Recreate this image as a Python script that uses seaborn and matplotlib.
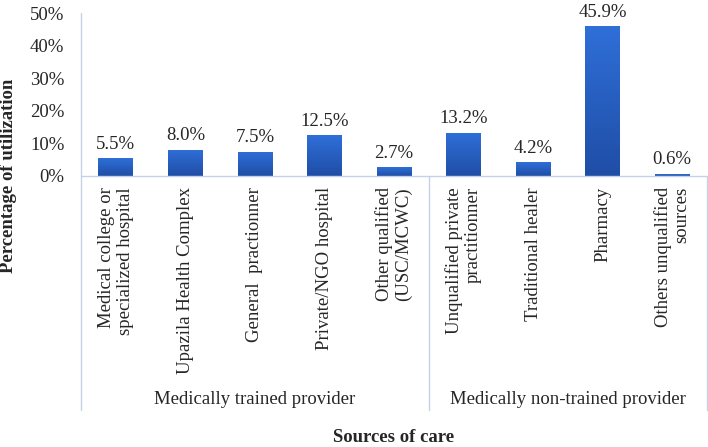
import seaborn as sns
import pandas as pd
import numpy as np
import matplotlib.pyplot as plt
from matplotlib.lines import Line2D

# Data
sources = ["Medical college or\nspecialized hospital", "Upazila Health Complex",
           "General  practionner", "Private/NGO hospital", "Other qualified\n(USC/MCWC)",
           "Unqualified private\npractitionner", "Traditional healer", "Pharmacy",
           "Others unqualified\nsources"]
utilization = [5.5, 8.0, 7.5, 12.5, 2.7, 13.2, 4.2, 45.9, 0.6]
groups = ["Medically trained provider", "Medically non-trained provider"]
group_sizes = [5, 4]
y_ticks = [0, 10, 20, 30, 40, 50]

df = pd.DataFrame({"source": sources, "pct": utilization})

sns.set_style("white")
plt.rcParams['font.family'] = ['Liberation Serif', 'DejaVu Serif']
fs = 13.5

fig = plt.figure(figsize=(7.08, 4.47), dpi=100)
W, H = 708, 447
ax = fig.add_axes([81 / W, (H - 176) / H, 626 / W, 163 / H])

sns.barplot(data=df, x="source", y="pct", color="#2860c8", width=0.5, ax=ax, saturation=1)

# gradient fill for each bar
grad = np.linspace(0, 1, 100).reshape(-1, 1)
cmap = plt.matplotlib.colors.LinearSegmentedColormap.from_list("b", ["#1f4ea6", "#2f6fd8"])
for p in ax.patches:
    x0, y0 = p.get_x(), p.get_y()
    w, h = p.get_width(), p.get_height()
    im = ax.imshow(grad, cmap=cmap, extent=[x0, x0 + w, y0, y0 + h], origin="lower",
                   aspect="auto", zorder=p.get_zorder() + 0.1)
    im.set_clip_path(p)

ax.set_xlim(-0.5, len(sources) - 0.5)
ax.set_ylim(0, 50)
ax.set_yticks(y_ticks)
ax.set_yticklabels([f"{t}%" for t in y_ticks], fontsize=fs)
ax.tick_params(axis="y", length=0, pad=12)
ax.tick_params(axis="x", length=0, pad=8)
ax.set_xticks(range(len(sources)))
ax.set_xticklabels(sources, rotation=90, fontsize=fs, va="top", ha="center",
                   multialignment="right", linespacing=1.15)
ax.set_xlabel("")
ax.set_ylabel("")

ax.bar_label(ax.containers[0], labels=[f"{v:.1f}%" for v in utilization],
             padding=4, fontsize=fs)

for s in ax.spines.values():
    s.set_visible(False)

# axis and separator lines
lc = "#c5d2e6"
fig.add_artist(Line2D([81 / W, 707 / W], [(H - 176) / H] * 2, color=lc, lw=1))
sep_x = [81, 81 + 626 * group_sizes[0] / len(sources), 707]
fig.add_artist(Line2D([81 / W, 81 / W], [(H - 13) / H, (H - 410) / H], color=lc, lw=1))
for xs in sep_x[1:]:
    fig.add_artist(Line2D([xs / W, xs / W], [(H - 176) / H, (H - 410) / H], color=lc, lw=1))

# group labels
for i, g in enumerate(groups):
    xc = (sep_x[i] + sep_x[i + 1]) / 2
    fig.text(xc / W, (H - 400) / H, g, ha="center", va="center", fontsize=fs)

fig.text((81 + 626 / 2) / W, (H - 438) / H, "Sources of care", ha="center", va="center",
         fontsize=fs, fontweight="bold")
fig.text(9 / W, (H - 176) / H, "Percentage of utilization", ha="center", va="center",
         rotation=90, fontsize=fs, fontweight="bold")

plt.savefig("out.png", dpi=100)
